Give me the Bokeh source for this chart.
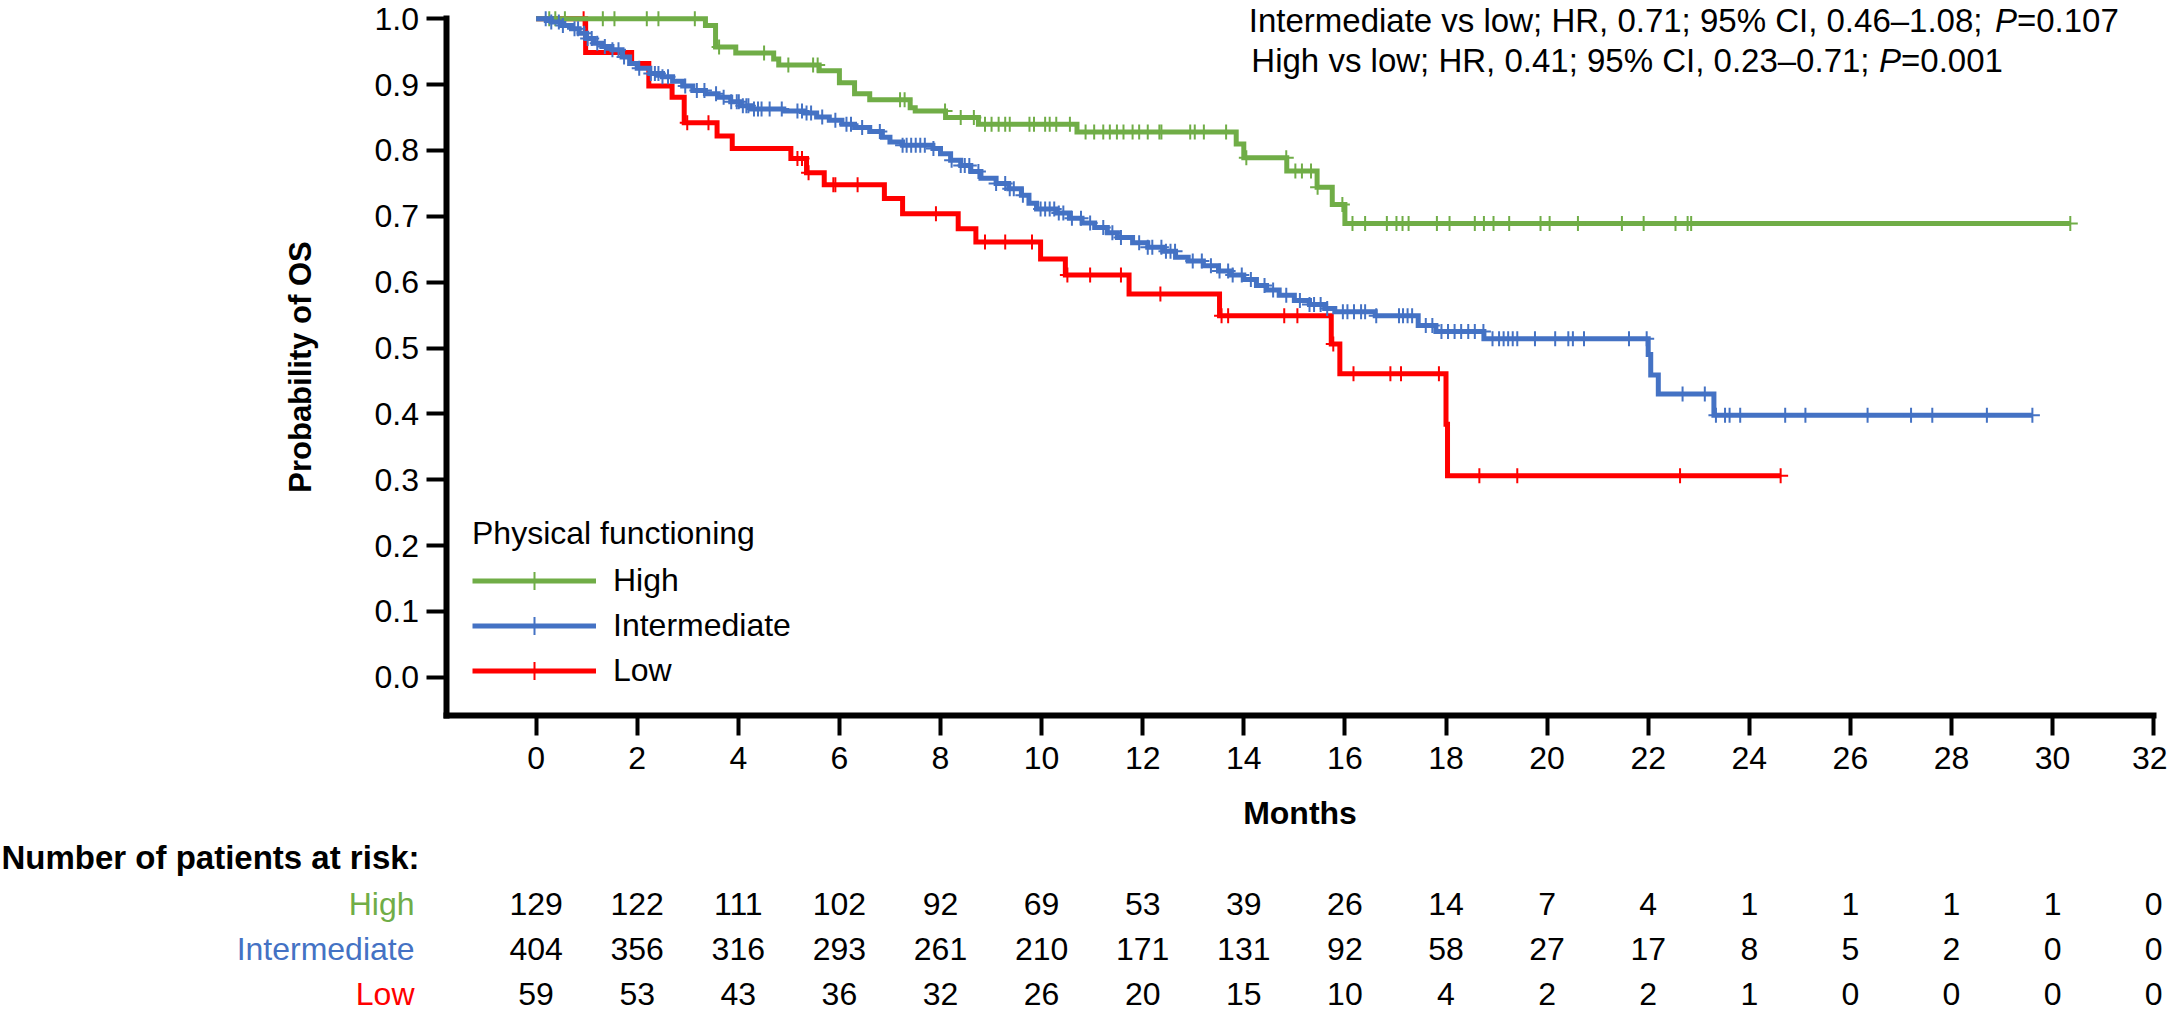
import numpy as np
from bokeh.plotting import figure
from bokeh.models import (Range1d, FixedTicker, NumeralTickFormatter, ColumnDataSource,
                          LabelSet, Label, Legend, LegendItem)
from bokeh.core.properties import value
from bokeh.embed import file_html
from bokeh.resources import INLINE

# ------------------------------------------------------------------ data
groups = ["High", "Intermediate", "Low"]
colors = {"High": "#70AD47", "Intermediate": "#4472C4", "Low": "#FF0000"}

# Kaplan-Meier step times (months) and survival after each step
high_t = [3.35, 3.55, 3.95, 4.70, 4.80, 5.60, 6.00, 6.30, 6.60, 7.40, 7.50, 8.10, 8.75,
          10.70, 13.85, 14.00, 14.85, 15.45, 15.75, 16.00]
high_s = [0.990, 0.957, 0.948, 0.939, 0.930, 0.921, 0.903, 0.886, 0.877, 0.865, 0.860, 0.850, 0.840,
          0.828, 0.810, 0.789, 0.769, 0.744, 0.718, 0.689]
high_end = 30.35

int_t = [0.30, 0.50, 0.70, 0.85, 1.00, 1.15, 1.30, 1.50, 1.70, 1.85, 2.00, 2.25, 2.50, 2.70,
         2.90, 3.10, 3.35, 3.60, 3.85, 4.05, 4.25, 4.90, 5.30, 5.55, 5.80, 6.05, 6.30, 6.60,
         6.85, 7.00, 7.25, 7.85, 8.00, 8.20, 8.40, 8.60, 8.80, 9.10, 9.35, 9.60, 9.75, 9.90,
         10.30, 10.55, 10.80, 11.05, 11.30, 11.50, 11.80, 12.10, 12.40, 12.65, 12.90, 13.20,
         13.50, 13.75, 14.00, 14.25, 14.45, 14.70, 15.00, 15.30, 15.60, 15.80, 16.60, 17.45,
         17.80, 18.75, 22.00, 22.05, 22.20, 23.30]
int_s = [0.995, 0.990, 0.985, 0.978, 0.970, 0.963, 0.958, 0.953, 0.942, 0.932, 0.925, 0.917,
         0.912, 0.905, 0.898, 0.891, 0.886, 0.881, 0.874, 0.868, 0.863, 0.860, 0.857, 0.851,
         0.846, 0.840, 0.835, 0.829, 0.820, 0.813, 0.808, 0.803, 0.795, 0.785, 0.777, 0.768,
         0.758, 0.750, 0.742, 0.732, 0.720, 0.711, 0.705, 0.697, 0.690, 0.683, 0.675, 0.668,
         0.660, 0.653, 0.647, 0.638, 0.632, 0.625, 0.617, 0.611, 0.604, 0.595, 0.588, 0.580,
         0.572, 0.566, 0.560, 0.555, 0.549, 0.534, 0.525, 0.514, 0.490, 0.459, 0.430, 0.398]
int_end = 29.60

low_t = [0.98, 1.89, 2.23, 2.69, 2.93, 3.58, 3.88, 5.04, 5.35, 5.70, 6.89, 7.25, 8.35, 8.70,
         9.98, 10.47, 11.73, 13.52, 15.73, 15.90, 18.00, 18.03]
low_s = [0.949, 0.932, 0.898, 0.881, 0.842, 0.822, 0.803, 0.788, 0.766, 0.748, 0.727, 0.704,
         0.681, 0.661, 0.635, 0.611, 0.582, 0.549, 0.506, 0.461, 0.384, 0.306]
low_end = 24.62

# censoring times (months)
high_cens = [0.26, 0.38, 0.57, 1.32, 1.55, 2.19, 2.42, 3.14, 3.62, 4.51, 4.99, 5.48, 5.57, 7.20,
             7.29, 8.09, 8.40, 8.66, 8.88, 9.01, 9.15, 9.28, 9.37, 9.76, 9.85, 10.07, 10.16,
             10.29, 10.56, 10.87, 11.04, 11.22, 11.35, 11.49, 11.62, 11.80, 11.93, 12.10, 12.33,
             12.37, 12.94, 13.03, 13.21, 13.65, 14.05, 14.84, 15.02, 15.15, 15.33, 15.46, 15.95,
             16.15, 16.40, 16.83, 17.02, 17.14, 17.26, 17.82, 18.07, 18.57, 18.75, 18.94, 19.25,
             19.87, 20.05, 20.61, 21.48, 21.91, 22.54, 22.78, 22.85, 30.35]
int_cens = [0.19, 0.30, 0.45, 0.53, 0.76, 0.83, 0.95, 1.02, 1.10, 1.21, 1.36, 1.51, 1.63, 1.74,
            2.04, 2.27, 2.35, 2.42, 2.50, 2.61, 2.95, 3.18, 3.33, 3.56, 3.71, 3.86, 3.97, 4.01,
            4.09, 4.16, 4.20, 4.31, 4.39, 4.46, 4.62, 4.86, 5.17, 5.26, 5.35, 5.44, 5.66, 5.92,
            6.14, 6.23, 6.45, 6.80, 7.25, 7.33, 7.42, 7.51, 7.60, 7.69, 7.86, 8.22, 8.40, 8.48,
            8.57, 8.75, 9.10, 9.28, 9.37, 9.45, 9.63, 9.98, 10.07, 10.16, 10.25, 10.34, 10.43,
            10.60, 10.78, 10.96, 11.22, 11.40, 11.57, 11.93, 12.10, 12.19, 12.37, 12.46, 12.55,
            12.64, 12.99, 13.17, 13.35, 13.52, 13.69, 13.78, 13.96, 14.14, 14.41, 14.58, 14.84,
            15.11, 15.30, 15.39, 15.52, 15.65, 15.96, 16.05, 16.18, 16.32, 16.40, 16.62, 17.07,
            17.15, 17.24, 17.33, 17.60, 17.73, 17.91, 18.04, 18.17, 18.30, 18.44, 18.57, 18.74,
            18.92, 19.05, 19.14, 19.23, 19.32, 19.41, 19.76, 20.16, 20.42, 20.51, 20.73, 21.62,
            21.97, 22.68, 23.12, 23.34, 23.52, 23.61, 23.82, 24.71, 25.11, 26.34, 27.20, 27.62,
            28.70, 29.60]
low_cens = [0.94, 2.99, 3.41, 5.17, 5.26, 5.39, 5.88, 5.92, 6.36, 7.91, 8.88, 9.28, 9.81, 10.51,
            10.96, 11.57, 12.35, 13.56, 13.69, 14.80, 15.06, 15.77, 16.17, 16.90, 17.11, 17.86,
            18.66, 19.41, 22.63, 24.62]

# number at risk table
risk_months = [0, 2, 4, 6, 8, 10, 12, 14, 16, 18, 20, 22, 24, 26, 28, 30, 32]
risk_high = [129, 122, 111, 102, 92, 69, 53, 39, 26, 14, 7, 4, 1, 1, 1, 1, 0]
risk_int = [404, 356, 316, 293, 261, 210, 171, 131, 92, 58, 27, 17, 8, 5, 2, 0, 0]
risk_low = [59, 53, 43, 36, 32, 26, 20, 15, 10, 4, 2, 2, 1, 0, 0, 0, 0]

x_ticks = [0, 2, 4, 6, 8, 10, 12, 14, 16, 18, 20, 22, 24, 26, 28, 30, 32]
y_ticks = [0.0, 0.1, 0.2, 0.3, 0.4, 0.5, 0.6, 0.7, 0.8, 0.9, 1.0]

ann1_pre, ann1_p, ann1_post = "Intermediate vs low; HR, 0.71; 95% CI, 0.46\u20131.08;", "P", "=0.107"
ann2_pre, ann2_p, ann2_post = "High vs low; HR, 0.41; 95% CI, 0.23\u20130.71;", "P", "=0.001"

# ------------------------------------------------------------------ layout (canvas pixels)
FONT = "Liberation Sans"
W, H = 2167, 1011
XPX0, PXM = 535.6, 50.55      # canvas x of month 0, pixels per month
YPX1, PXU = 18.3, 658.4       # canvas y of probability 1.0, pixels per unit


def mx(px):  # canvas x -> month
    return (px - XPX0) / PXM


def sy(py):  # canvas y -> probability units
    return 1.0 - (py - YPX1) / PXU


X_LO, X_HI = mx(0), mx(W)
Y_LO, Y_HI = sy(H), sy(0)
X_AX = mx(445.5)   # where the y axis stands (months)
Y_AX = sy(715.0)   # where the x axis stands (probability)

p = figure(width=W, height=H, output_backend="svg", toolbar_location=None,
           x_range=Range1d(X_LO, X_HI), y_range=Range1d(Y_LO, Y_HI),
           min_border_left=0, min_border_right=0, min_border_top=0, min_border_bottom=0)
p.outline_line_color = None
p.grid.visible = False
p.background_fill_color = "white"
p.border_fill_color = "white"


def step_xy(times, surv, end):
    return [0.0] + list(times) + [end], [1.0] + list(surv) + [surv[-1]]


def cens_y(times, surv, cens):
    s = np.concatenate([[1.0], np.asarray(surv)])
    idx = np.searchsorted(np.asarray(times), np.asarray(cens), side="right")
    return s[idx]


series = {
    "High": (high_t, high_s, high_end, high_cens),
    "Intermediate": (int_t, int_s, int_end, int_cens),
    "Low": (low_t, low_s, low_end, low_cens),
}

rend = {}
for g in ["Low", "High", "Intermediate"]:
    t, s, end, cens = series[g]
    xs, ys = step_xy(t, s, end)
    ln = p.step(xs, ys, mode="after", line_width=5, line_color=colors[g], line_join="miter")
    cy = cens_y(t, s, cens)
    mk = p.scatter(x=list(cens), y=list(cy), marker="cross", size=15,
                   line_color=colors[g], line_width=2)
    rend[g] = (ln, mk)

# axes, standing at fixed data locations inside the full-canvas frame
for ax in (p.xaxis[0], p.yaxis[0]):
    ax.axis_line_width = 6
    ax.axis_line_color = "black"
    ax.axis_line_cap = "square"
    ax.major_tick_line_width = 4
    ax.major_tick_line_color = "black"
    ax.major_tick_out = 20
    ax.major_tick_in = 0
    ax.minor_tick_line_color = None
    ax.major_label_text_font = FONT
    ax.major_label_text_font_size = "32px"
    ax.major_label_text_color = "black"
    ax.axis_label_text_font = FONT
    ax.axis_label_text_font_style = "bold"
    ax.axis_label_text_color = "black"

p.xaxis.fixed_location = Y_AX
p.xaxis.ticker = FixedTicker(ticks=x_ticks)
p.xaxis.bounds = (X_AX, 32)
p.xaxis.major_label_standoff = 11
p.xaxis.axis_label = "Months"
p.xaxis.axis_label_text_font_size = "32px"
p.xaxis.axis_label_standoff = 23

p.yaxis.fixed_location = X_AX
p.yaxis.ticker = FixedTicker(ticks=y_ticks)
p.yaxis.bounds = (Y_AX, 1.0)
p.yaxis.formatter = NumeralTickFormatter(format="0.0")
p.yaxis.major_label_standoff = 7
p.yaxis.axis_label = "Probability of OS"
p.yaxis.axis_label_text_font_size = "31px"
p.yaxis.axis_label_standoff = 54

# legend (location measured from the frame's bottom-left corner)
legend = Legend(items=[LegendItem(label=g, renderers=list(rend[g])) for g in groups],
                location=(472, 318), title="Physical functioning",
                title_text_font=FONT, title_text_font_size="32px", title_text_font_style="normal",
                title_text_color="black", title_standoff=6,
                label_text_font=FONT, label_text_font_size="32px", label_text_color="black",
                glyph_width=124, glyph_height=45, label_height=45, spacing=0, padding=0,
                margin=0, label_standoff=17, background_fill_alpha=0, border_line_color=None)
p.add_layout(legend)

# annotations (HR text)
ann_kw = dict(text_font=FONT, text_font_size="33px", text_color="black", text_baseline="alphabetic")
ya1, ya2 = sy(20), sy(60)
p.add_layout(Label(x=28.613, y=ya1, text=ann1_pre, text_align="right", **ann_kw))
p.add_layout(Label(x=28.860, y=ya1, text=ann1_p, text_align="left", text_font_style="italic", **ann_kw))
p.add_layout(Label(x=29.295, y=ya1, text=ann1_post, text_align="left", **ann_kw))
p.add_layout(Label(x=26.378, y=ya2, text=ann2_pre, text_align="right", **ann_kw))
p.add_layout(Label(x=26.566, y=ya2, text=ann2_p, text_align="left", text_font_style="italic", **ann_kw))
p.add_layout(Label(x=27.001, y=ya2, text=ann2_post, text_align="left", **ann_kw))

# risk table
head_src = ColumnDataSource(dict(x=[mx(1)], y=[sy(868)], t=["Number of patients at risk:"]))
p.add_layout(LabelSet(x="x", y="y", text="t", source=head_src, text_align="left",
                      text_baseline="alphabetic", text_font=value(FONT),
                      text_font_size=value("33px"), text_font_style="bold", text_color="black"))

row_y = {"High": sy(914), "Intermediate": sy(959), "Low": sy(1004)}
row_vals = {"High": risk_high, "Intermediate": risk_int, "Low": risk_low}
lab_src = ColumnDataSource(dict(x=[mx(414)] * 3, y=[row_y[g] for g in groups], t=groups,
                                c=[colors[g] for g in groups]))
p.add_layout(LabelSet(x="x", y="y", text="t", source=lab_src, text_align="right",
                      text_baseline="alphabetic", text_font=value(FONT),
                      text_font_size=value("32px"), text_color="c"))
for g in groups:
    src = ColumnDataSource(dict(m=risk_months, n=[str(v) for v in row_vals[g]]))
    p.add_layout(LabelSet(x="m", y=row_y[g], text="n", source=src, text_align="center",
                          text_baseline="alphabetic", text_font=value(FONT),
                          text_font_size=value("32px"), text_color="black"))

open("out.html", "w").write(file_html(p, INLINE))
